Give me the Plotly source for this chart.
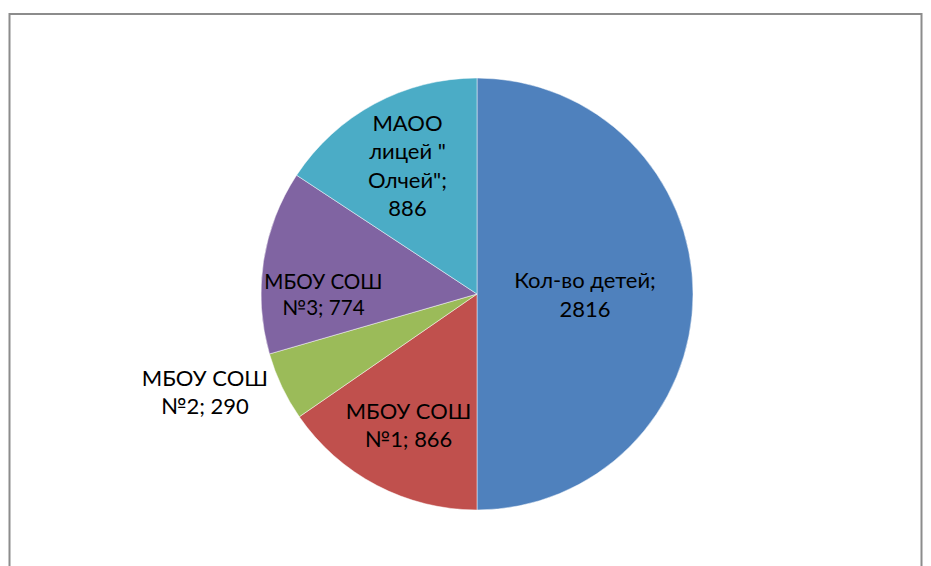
import plotly.graph_objects as go

labels = ["Кол-во детей", "МБОУ СОШ №1", "МБОУ СОШ №2", "МБОУ СОШ №3", "МАОО лицей \" Олчей\""]
values = [2816, 866, 290, 774, 886]
texts = ["Кол-во детей;<br>2816", "МБОУ СОШ<br>№1; 866", "МБОУ СОШ<br>№2; 290",
         "МБОУ СОШ<br>№3; 774", "МАОО<br>лицей \"<br>Олчей\";<br>886"]
colors = ["#4F81BD", "#C0504D", "#9BBB59", "#8064A2", "#4BACC6"]
positions = ["inside", "inside", "outside", "inside", "inside"]

W, H = 931, 566
cx, cy, r = 477, 294, 216

fig = go.Figure(go.Pie(
    labels=labels, values=values, text=texts,
    textinfo="text", texttemplate="%{text}",
    textposition=positions, insidetextorientation="horizontal",
    marker=dict(colors=colors, line=dict(color="rgba(255,255,255,0.6)", width=0.8)),
    sort=False, direction="clockwise", rotation=0,
    textfont=dict(family="Lato, Open Sans, sans-serif", size=22, color="black"),
    domain=dict(x=[(cx - r) / W, (cx + r) / W], y=[1 - (cy + r) / H, 1 - (cy - r) / H]),
    showlegend=False, hoverinfo="label+value",
))
fig.update_layout(
    width=W, height=H, margin=dict(l=0, r=0, t=0, b=0),
    paper_bgcolor="white", plot_bgcolor="white",
    shapes=[dict(type="rect", xref="paper", yref="paper",
                 x0=9.5 / W, x1=921.5 / W, y0=-0.05, y1=1 - 14 / H,
                 line=dict(color="#8c8c8c", width=2), layer="below")],
)
fig.write_html("out.html", config={"displayModeBar": False},
               post_script="document.body.style.margin='0';document.body.style.overflow='hidden';")
